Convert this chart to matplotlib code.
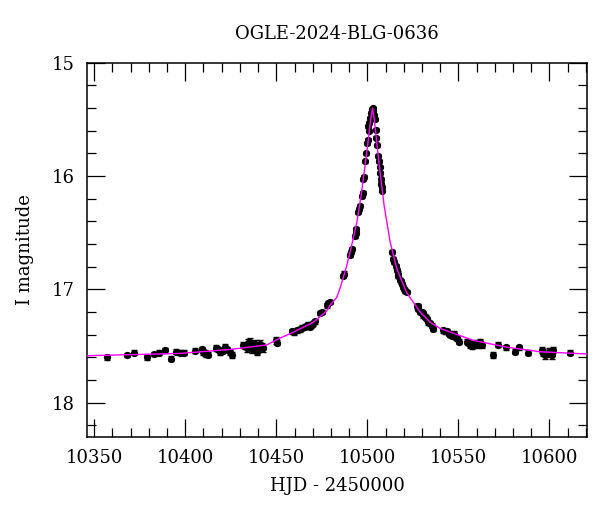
import numpy as np
import matplotlib.pyplot as plt
from matplotlib.ticker import MultipleLocator

hjd = [10356.8, 10367.8, 10371.8, 10378.8, 10382.8, 10385.7, 10388.8, 10392.0, 10394.9, 10397.0,
       10399.3, 10405.3, 10409.0, 10410.8, 10412.6, 10416.9, 10419.0, 10421.8, 10424.6, 10425.5,
       10431.9, 10433.7, 10435.5, 10437.4, 10439.2, 10441.0, 10442.9, 10449.8, 10458.5, 10461.2,
       10464.0, 10466.7, 10468.5, 10470.3, 10474.0, 10477.7, 10479.5, 10486.8, 10487.3, 10490.5,
       10491.4, 10493.2, 10493.8, 10495.0, 10496.0, 10496.9, 10497.5, 10497.8, 10498.2, 10498.8,
       10499.8, 10500.1, 10500.5, 10501.1, 10501.5, 10502.4, 10502.9, 10503.3, 10504.0, 10504.7,
       10504.9, 10506.0, 10506.4, 10507.0, 10507.4, 10507.9, 10508.2, 10513.4, 10514.3, 10515.6,
       10516.2, 10517.0, 10518.0, 10518.9, 10519.8, 10520.7, 10521.6, 10527.1, 10528.0, 10529.0,
       10529.9, 10530.8, 10531.7, 10532.6, 10533.5, 10534.5, 10536.3, 10541.8, 10543.7, 10545.5,
       10547.4, 10549.2, 10550.1, 10554.6, 10556.4, 10558.2, 10560.1, 10561.9, 10562.8, 10568.9,
       10572.0, 10576.0, 10580.8, 10583.0, 10588.1, 10595.8, 10597.6, 10599.5, 10601.3, 10602.2,
       10611.0,
       10410.0, 10411.5, 10418.0, 10420.5, 10423.0, 10433.0, 10434.5, 10436.5, 10438.3, 10440.0,
       10442.0, 10450.5, 10459.5, 10463.0, 10465.5, 10467.5, 10469.5, 10471.0, 10475.0, 10478.5,
       10490.8, 10493.5, 10495.5, 10499.2, 10500.8, 10502.0, 10503.6, 10505.3, 10506.7, 10507.7,
       10514.8, 10516.6, 10518.4, 10520.2, 10527.6, 10530.3, 10532.0, 10535.4, 10542.6, 10544.6,
       10546.4, 10548.3, 10555.5, 10557.3, 10559.2, 10561.0, 10596.6, 10598.5, 10600.4]
imag = [17.60, 17.58, 17.56, 17.60, 17.57, 17.56, 17.535, 17.61, 17.55, 17.56,
        17.56, 17.54, 17.53, 17.56, 17.575, 17.52, 17.55, 17.51, 17.55, 17.58,
        17.49, 17.52, 17.46, 17.505, 17.55, 17.48, 17.52, 17.45, 17.37, 17.36,
        17.34, 17.32, 17.33, 17.30, 17.21, 17.14, 17.11, 16.88, 16.86, 16.70,
        16.64, 16.53, 16.47, 16.32, 16.26, 16.18, 16.15, 16.03, 16.01, 15.87,
        15.71, 15.68, 15.56, 15.53, 15.49, 15.41, 15.40, 15.43, 15.50, 15.59,
        15.66, 15.82, 15.87, 15.97, 16.03, 16.10, 16.13, 16.67, 16.73, 16.79,
        16.83, 16.88, 16.92, 16.95, 16.98, 17.01, 17.02, 17.15, 17.15, 17.20,
        17.20, 17.23, 17.24, 17.26, 17.29, 17.30, 17.35, 17.36, 17.37, 17.40,
        17.39, 17.43, 17.46, 17.46, 17.49, 17.48, 17.49, 17.46, 17.49, 17.58,
        17.49, 17.51, 17.55, 17.51, 17.56, 17.535, 17.58, 17.55, 17.58, 17.535,
        17.56,
        17.55, 17.57, 17.53, 17.54, 17.53, 17.50, 17.47, 17.53, 17.48, 17.51,
        17.50, 17.47, 17.38, 17.35, 17.33, 17.31, 17.31, 17.28, 17.20, 17.12,
        16.67, 16.50, 16.29, 15.80, 15.60, 15.44, 15.46, 15.73, 15.92, 16.07,
        16.76, 16.86, 16.93, 17.00, 17.17, 17.21, 17.25, 17.32, 17.37, 17.39,
        17.41, 17.42, 17.47, 17.50, 17.47, 17.48, 17.56, 17.57, 17.56]
ierr = [0.020, 0.020, 0.022, 0.020, 0.022, 0.022, 0.022, 0.025, 0.022, 0.022,
        0.022, 0.022, 0.025, 0.025, 0.025, 0.025, 0.025, 0.025, 0.025, 0.025,
        0.030, 0.030, 0.030, 0.030, 0.030, 0.030, 0.030, 0.030, 0.022, 0.022,
        0.022, 0.022, 0.022, 0.022, 0.020, 0.020, 0.020, 0.020, 0.020, 0.018,
        0.018, 0.018, 0.018, 0.015, 0.015, 0.015, 0.015, 0.015, 0.015, 0.012,
        0.012, 0.012, 0.012, 0.012, 0.012, 0.010, 0.010, 0.010, 0.012, 0.012,
        0.012, 0.012, 0.012, 0.015, 0.015, 0.015, 0.015, 0.018, 0.018, 0.018,
        0.018, 0.018, 0.018, 0.018, 0.018, 0.018, 0.018, 0.020, 0.020, 0.020,
        0.020, 0.020, 0.020, 0.020, 0.020, 0.020, 0.020, 0.022, 0.022, 0.022,
        0.022, 0.022, 0.022, 0.025, 0.025, 0.025, 0.025, 0.025, 0.025, 0.025,
        0.022, 0.022, 0.022, 0.022, 0.022, 0.030, 0.030, 0.030, 0.030, 0.030,
        0.022,
        0.025, 0.025, 0.025, 0.025, 0.025, 0.030, 0.030, 0.030, 0.030, 0.030,
        0.030, 0.025, 0.022, 0.022, 0.022, 0.022, 0.022, 0.022, 0.020, 0.020,
        0.018, 0.018, 0.015, 0.012, 0.012, 0.010, 0.010, 0.012, 0.012, 0.015,
        0.018, 0.018, 0.018, 0.018, 0.020, 0.020, 0.020, 0.020, 0.022, 0.022,
        0.022, 0.022, 0.025, 0.025, 0.025, 0.025, 0.030, 0.030, 0.030]

# model curve
model_t = [10346.0, 10397.0, 10424.6, 10444.7, 10452.0, 10459.0, 10470.3, 10477.7, 10479.5, 10483.2,
           10485.0, 10488.7, 10491.4, 10494.2, 10496.5, 10498.7, 10500.5, 10501.8, 10502.8, 10503.8,
           10505.2, 10507.0, 10509.2, 10512.5, 10516.2, 10521.6, 10529.0, 10534.5, 10540.0, 10558.2,
           10576.6, 10594.9, 10620.5]
model_m = [17.585, 17.565, 17.53, 17.49, 17.43, 17.38, 17.29, 17.19, 17.14, 17.07,
           16.99, 16.79, 16.61, 16.41, 16.18, 15.91, 15.68, 15.50, 15.40, 15.50,
           15.71, 15.97, 16.26, 16.58, 16.82, 17.03, 17.20, 17.29, 17.345, 17.45,
           17.51, 17.55, 17.57]

plt.rcParams['font.family'] = ['DejaVu Serif']

fig = plt.figure(figsize=(6, 5.12), dpi=100)
ax = fig.add_axes([0.1455, 0.147, 0.8325, 0.7305])

ax.plot(model_t, model_m, color='#ff00ff', lw=1.0, zorder=3)
ax.errorbar(hjd, imag, yerr=ierr, fmt='o', color='black', ms=4.2,
            elinewidth=1.0, capsize=2.4, capthick=1.0, zorder=2)

ax.set_xlim(10346.2, 10620.5)
ax.set_ylim(18.3, 15.0)

ax.xaxis.set_major_locator(MultipleLocator(50))
ax.xaxis.set_minor_locator(MultipleLocator(10))
ax.yaxis.set_major_locator(MultipleLocator(1))
ax.yaxis.set_minor_locator(MultipleLocator(0.2))
ax.tick_params(which='both', direction='in', top=True, right=True, width=0.9, labelsize=13)
ax.tick_params(which='major', length=13, pad=9)
ax.tick_params(which='minor', length=6.5)
for s in ax.spines.values():
    s.set_linewidth(1.1)

ax.set_xlabel('HJD - 2450000', fontsize=13, labelpad=7)
ax.set_ylabel('I magnitude', fontsize=13, labelpad=13)
ax.set_title('OGLE-2024-BLG-0636', fontsize=13, pad=17)

fig.savefig('out.png', dpi=100)
